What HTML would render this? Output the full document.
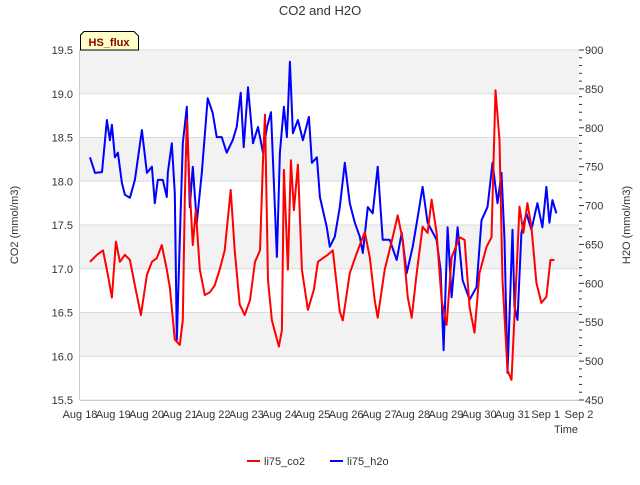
<!DOCTYPE html>
<html><head><meta charset="utf-8"><style>
body{margin:0;background:#fff;}
svg{font-family:"Liberation Sans","DejaVu Sans",sans-serif;}
</style></head><body>
<svg id="chart" width="640" height="480" viewBox="0 0 640 480" xmlns="http://www.w3.org/2000/svg">
<text x="320" y="15" text-anchor="middle" font-size="13" fill="#333">CO2 and H2O</text>
<g id="bands"></g>
<g id="grid"></g>
<g id="axes"></g>
<g id="series"></g>
<g>
<path d="M80.5,50 L80.5,35 L84,31.5 L134,31.5 L138.5,36 L138.5,50 Z" fill="#ffffc8" stroke="#000" stroke-width="1"/>
<text x="109" y="46" text-anchor="middle" font-size="11" font-weight="bold" fill="#8b0000">HS_flux</text>
</g>
<text transform="translate(18,225) rotate(-90)" text-anchor="middle" font-size="11" fill="#333">CO2 (mmol/m3)</text>
<text transform="translate(630,225) rotate(-90)" text-anchor="middle" font-size="11" fill="#333">H2O (mmol/m3)</text>
<text x="566" y="433" text-anchor="middle" font-size="11" fill="#333">Time</text>
<g>
<g><line x1="247" y1="461" x2="260" y2="461" stroke="#f00" stroke-width="2"/><text x="264" y="465" font-size="11" fill="#333">li75_co2</text></g>
<g><line x1="330" y1="461" x2="343" y2="461" stroke="#00f" stroke-width="2"/><text x="347" y="465" font-size="11" fill="#333">li75_h2o</text></g>
</g>
</svg>
<script>
const xTickLabels=["Aug 18","Aug 19","Aug 20","Aug 21","Aug 22","Aug 23","Aug 24","Aug 25","Aug 26","Aug 27","Aug 28","Aug 29","Aug 30","Aug 31","Sep 1","Sep 2"];
const leftTicks=[15.5,16.0,16.5,17.0,17.5,18.0,18.5,19.0,19.5];
const rightTicks=[450,500,550,600,650,700,750,800,850,900];
const co2Days=[0.30,0.51,0.69,0.84,0.96,1.08,1.20,1.35,1.50,1.65,1.83,2.01,2.16,2.31,2.46,2.61,2.70,2.85,3.00,3.09,3.15,3.21,3.30,3.39,3.48,3.60,3.75,3.90,4.05,4.20,4.35,4.53,4.65,4.80,4.95,5.11,5.26,5.41,5.50,5.56,5.65,5.77,5.98,6.07,6.13,6.25,6.34,6.43,6.55,6.67,6.85,7.03,7.15,7.30,7.45,7.60,7.81,7.90,8.11,8.32,8.56,8.71,8.86,8.95,9.16,9.40,9.55,9.70,9.85,9.97,10.12,10.30,10.45,10.57,10.72,10.87,11.02,11.17,11.41,11.56,11.71,11.86,12.01,12.22,12.37,12.49,12.61,12.70,12.85,12.97,13.12,13.21,13.33,13.45,13.57,13.72,13.87,14.02,14.14,14.26];
const co2Values=[17.08,17.16,17.21,16.93,16.67,17.31,17.08,17.16,17.10,16.81,16.47,16.93,17.08,17.12,17.27,16.99,16.79,16.19,16.13,16.41,17.79,18.70,17.90,17.27,17.67,16.99,16.70,16.73,16.81,16.99,17.21,17.90,17.21,16.59,16.47,16.64,17.08,17.21,18.24,18.76,16.87,16.41,16.11,16.30,18.13,16.99,18.24,17.67,18.19,16.99,16.53,16.76,17.08,17.12,17.16,17.21,16.51,16.41,16.95,17.18,17.42,17.13,16.64,16.44,16.99,17.36,17.61,17.33,16.68,16.44,16.95,17.48,17.41,17.79,17.41,16.64,16.36,17.13,17.36,17.33,16.56,16.27,16.95,17.25,17.36,19.04,18.47,16.87,15.84,15.73,16.95,17.71,17.41,17.75,17.48,16.84,16.61,16.68,17.10,17.10];
const h2oDays=[0.30,0.45,0.66,0.81,0.90,0.96,1.05,1.14,1.26,1.35,1.50,1.65,1.86,2.01,2.16,2.25,2.34,2.49,2.61,2.64,2.76,2.85,2.91,3.00,3.09,3.21,3.30,3.39,3.51,3.66,3.84,3.99,4.11,4.26,4.41,4.59,4.71,4.83,4.92,5.05,5.20,5.35,5.50,5.62,5.74,5.92,6.01,6.13,6.22,6.31,6.40,6.55,6.70,6.88,6.97,7.12,7.21,7.42,7.51,7.66,7.81,7.96,8.11,8.26,8.41,8.50,8.65,8.80,8.95,9.10,9.31,9.52,9.67,9.82,10.00,10.15,10.30,10.45,10.72,10.84,10.93,11.05,11.17,11.35,11.50,11.71,11.92,12.07,12.25,12.40,12.55,12.67,12.76,12.85,13.00,13.06,13.15,13.27,13.42,13.57,13.75,13.90,14.02,14.11,14.20,14.32];
const h2oValues=[762,742,743,810,784,804,762,768,729,714,710,733,797,742,750,703,733,733,711,742,780,716,527,656,780,827,698,750,678,742,838,819,788,788,768,784,801,845,775,852,780,801,768,801,820,634,768,827,788,885,793,810,784,814,755,762,711,672,647,660,698,755,703,678,660,639,698,690,750,656,656,630,665,613,647,685,724,678,656,617,514,672,582,672,604,579,595,681,698,755,703,742,656,485,669,570,553,665,690,669,703,672,724,678,707,690];

const NS="http://www.w3.org/2000/svg";
const svg=document.getElementById('chart');
const L=80,R=579,T=50,B=400;
const xS=d=>L+d*(R-L)/15;
const yL=v=>B-(v-15.5)*(B-T)/4;
const yR=v=>B-(v-450)*(B-T)/450;
function mk(tag,attrs,parent){const e=document.createElementNS(NS,tag);for(const k in attrs)e.setAttribute(k,attrs[k]);parent.appendChild(e);return e;}
const bands=document.getElementById('bands'),grid=document.getElementById('grid'),axes=document.getElementById('axes'),series=document.getElementById('series');
mk('rect',{x:L,y:T,width:R-L,height:B-T,fill:'#fff'},bands);
for(let i=0;i<leftTicks.length-1;i++){
  if(i%2===1){const r=mk('rect',{x:L,y:yL(leftTicks[i+1]),width:R-L,height:yL(leftTicks[i])-yL(leftTicks[i+1]),fill:'#f2f2f2'},bands);
  
  }
}
leftTicks.forEach(v=>{
  const y=yL(v);
  const g=mk('line',{x1:L,x2:R,y1:y,y2:y,stroke:'#dcdcdc','stroke-width':1},grid);
  
  
  const t=mk('text',{x:L-7,y:y+4,'text-anchor':'end','font-size':11,fill:'#333'},axes);
  t.textContent=v.toFixed(1);
  
  
});
mk('line',{x1:L,x2:R,y1:B+0.5,y2:B+0.5,stroke:'#ccc','stroke-width':1},axes);
mk('line',{x1:L-0.5,x2:L-0.5,y1:T,y2:B,stroke:'#ccc','stroke-width':1},axes);
for(let v=450;v<=900;v+=10){
  const y=yR(v);const major=v%50===0;
  mk('line',{x1:R,x2:R+(major?5:3),y1:y,y2:y,stroke:'#333','stroke-width':1},axes);
}
rightTicks.forEach(v=>{
  const t=mk('text',{x:R+6,y:yR(v)+4,'font-size':11,fill:'#333'},axes);
  t.textContent=v;
  
  
});
xTickLabels.forEach((s,i)=>{
  const t=mk('text',{x:xS(i),y:B+18,'text-anchor':'middle','font-size':11,fill:'#333'},axes);
  t.textContent=s;
  
  
});
const pH=h2oDays.map((d,i)=>xS(d).toFixed(1)+','+yR(h2oValues[i]).toFixed(1)).join(' ');
const lh=mk('polyline',{points:pH,fill:'none',stroke:'#00f','stroke-width':2,'stroke-linejoin':'round'},series);


const pC=co2Days.map((d,i)=>xS(d).toFixed(1)+','+yL(co2Values[i]).toFixed(1)).join(' ');
const lc=mk('polyline',{points:pC,fill:'none',stroke:'#f00','stroke-width':2,'stroke-linejoin':'round'},series);


</script>
</body></html>
